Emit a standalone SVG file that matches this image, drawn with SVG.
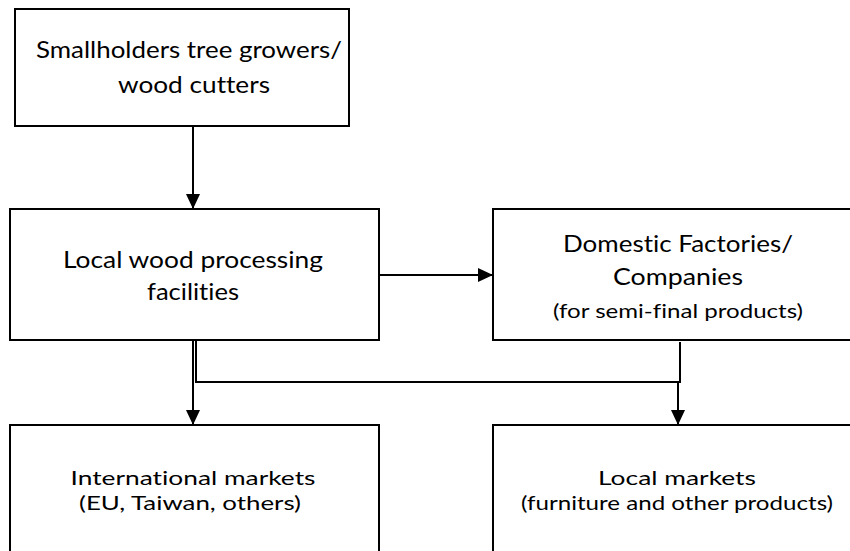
<svg xmlns="http://www.w3.org/2000/svg" width="850" height="551" viewBox="0 0 850 551">
<defs>
<style>
.box{fill:#fff;stroke:#000;stroke-width:2}
.t{font-family:Lato,"Liberation Sans",Arial,sans-serif;fill:#000;text-anchor:middle;font-variant-ligatures:none;font-feature-settings:"liga" 0,"clig" 0,"dlig" 0}
.big{font-size:24px}
.mid{font-size:20px}
.sm{font-size:19px}
.c{fill:none;stroke:#000;stroke-width:2}
</style>
<marker id="ah" markerUnits="userSpaceOnUse" markerWidth="16" markerHeight="14" refX="15" refY="7" orient="auto">
<path d="M0,0 L15,7 L0,14 Z" fill="#000"/>
</marker>
</defs>
<rect width="850" height="551" fill="#fff"/>
<g id="connectors">
<line class="c" x1="193" y1="126" x2="193" y2="209" marker-end="url(#ah)"/>
<line class="c" x1="379" y1="275" x2="493" y2="275" marker-end="url(#ah)"/>
<line class="c" x1="193" y1="340" x2="193" y2="425" marker-end="url(#ah)"/>
<polyline class="c" points="196,340 196,382 680,382 680,342"/>
<line class="c" x1="678" y1="382" x2="678" y2="425" stroke-width="3" marker-end="url(#ah)"/>
</g>
<g id="n1">
<rect class="box" x="15" y="9" width="334" height="117"/>
<text class="t big" x="189" y="58" textLength="306" lengthAdjust="spacingAndGlyphs">Smallholders tree growers/</text>
<text class="t big" x="194" y="93" textLength="152" lengthAdjust="spacingAndGlyphs">wood cutters</text>
</g>
<g id="n2">
<rect class="box" x="10" y="209" width="369" height="131"/>
<text class="t big" x="193" y="268" textLength="260" lengthAdjust="spacingAndGlyphs">Local wood processing</text>
<text class="t big" x="193" y="300" textLength="92" lengthAdjust="spacingAndGlyphs">facilities</text>
</g>
<g id="n3">
<rect class="box" x="493" y="209" width="370" height="131"/>
<text class="t big" x="678" y="252" textLength="230" lengthAdjust="spacingAndGlyphs">Domestic Factories/</text>
<text class="t big" x="678" y="285" textLength="130" lengthAdjust="spacingAndGlyphs">Companies</text>
<text class="t sm" x="678" y="318" textLength="250" lengthAdjust="spacingAndGlyphs">(for semi-final products)</text>
</g>
<g id="n4">
<rect class="box" x="10" y="425" width="369" height="140"/>
<text class="t mid" x="193" y="485" textLength="245" lengthAdjust="spacingAndGlyphs">International markets</text>
<text class="t sm" x="190" y="510" textLength="222" lengthAdjust="spacingAndGlyphs">(EU, Taiwan,  others)</text>
</g>
<g id="n5">
<rect class="box" x="493" y="425" width="370" height="140"/>
<text class="t mid" x="677" y="485" textLength="158" lengthAdjust="spacingAndGlyphs">Local markets</text>
<text class="t sm" x="677" y="510" textLength="312" lengthAdjust="spacingAndGlyphs">(furniture and other products)</text>
</g>
</svg>
